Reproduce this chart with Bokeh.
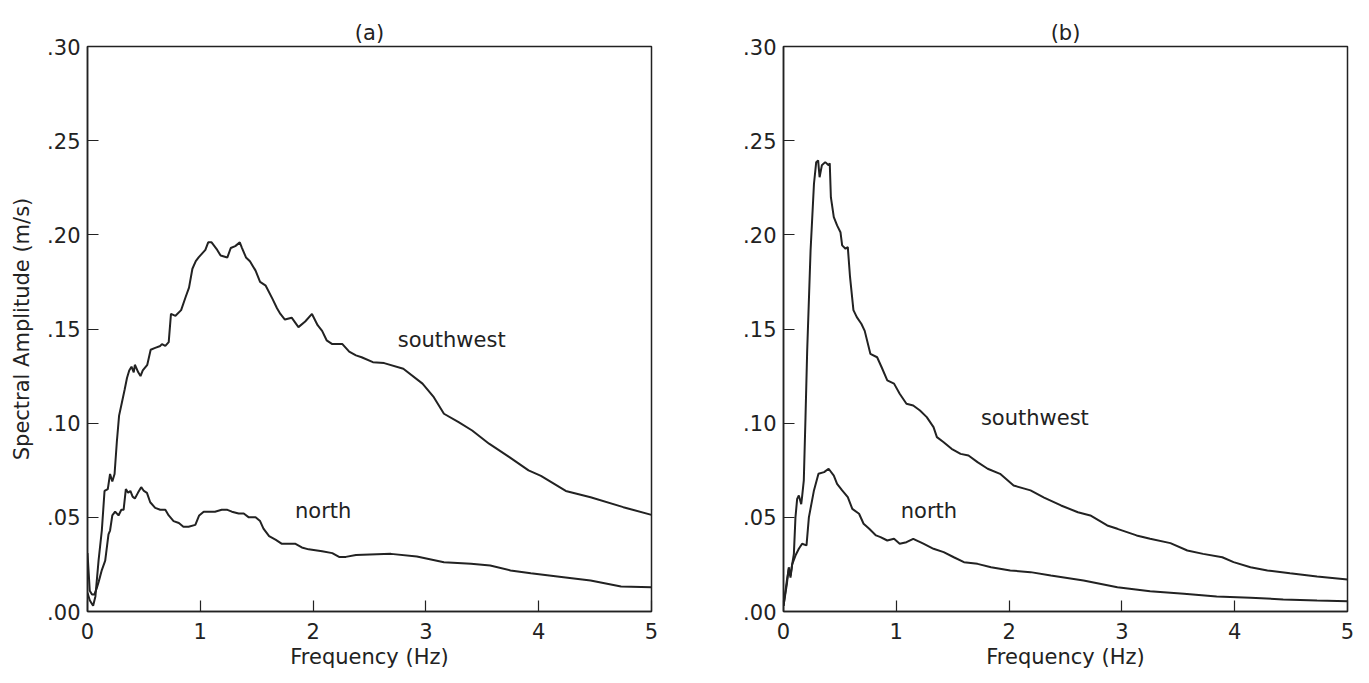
from bokeh.plotting import figure
from bokeh.layouts import row
from bokeh.models import Label, FixedTicker, Range1d, Title
from bokeh.embed import file_html
from bokeh.resources import INLINE

# ---------------- data ----------------
x_ticks = [0, 1, 2, 3, 4, 5]
y_ticks = [0.0, 0.05, 0.10, 0.15, 0.20, 0.25, 0.30]
y_tick_labels = [".00", ".05", ".10", ".15", ".20", ".25", ".30"]

# panel (a) southwest
fa_sw = [0, 0.02, 0.04, 0.05, 0.07, 0.098, 0.127, 0.151, 0.18, 0.20, 0.22, 0.24, 0.26, 0.28,
         0.305, 0.33, 0.35, 0.37, 0.39, 0.41, 0.42, 0.45, 0.47, 0.49, 0.53, 0.56, 0.60, 0.645,
         0.66, 0.69, 0.72, 0.74, 0.78, 0.83, 0.87, 0.90, 0.93, 0.96, 0.985, 1.015, 1.045, 1.07,
         1.10, 1.15, 1.18, 1.24, 1.27, 1.31, 1.35, 1.37, 1.405, 1.44, 1.49, 1.53, 1.58, 1.64,
         1.68, 1.71, 1.75, 1.81, 1.87, 1.93, 1.99, 2.04, 2.08, 2.12, 2.17, 2.26, 2.32, 2.38,
         2.43, 2.53, 2.63, 2.80, 2.97, 3.07, 3.16, 3.29, 3.41, 3.56, 3.74, 3.91, 4.02, 4.24,
         4.46, 4.75, 5.0]
va_sw = [0.010, 0.006, 0.004, 0.003, 0.008, 0.027, 0.043, 0.064, 0.065, 0.073, 0.069, 0.073,
         0.090, 0.104, 0.111, 0.118, 0.124, 0.128, 0.130, 0.127, 0.131, 0.127, 0.125, 0.128,
         0.131, 0.139, 0.140, 0.141, 0.142, 0.141, 0.143, 0.158, 0.157, 0.160, 0.167, 0.172,
         0.182, 0.186, 0.188, 0.190, 0.192, 0.196, 0.196, 0.192, 0.189, 0.188, 0.193, 0.194,
         0.196, 0.193, 0.188, 0.186, 0.181, 0.175, 0.173, 0.166, 0.161, 0.158, 0.155, 0.156,
         0.151, 0.154, 0.158, 0.152, 0.149, 0.144, 0.142, 0.142, 0.138, 0.136, 0.135, 0.1324,
         0.1319, 0.1289, 0.121, 0.1138, 0.105, 0.1005, 0.0961, 0.0891, 0.082, 0.0749, 0.072,
         0.064, 0.0607, 0.0554, 0.0513]

# panel (a) north
fa_n = [0, 0.02, 0.04, 0.06, 0.08, 0.10, 0.127, 0.157, 0.186, 0.20, 0.22, 0.245, 0.275, 0.30,
        0.32, 0.34, 0.36, 0.38, 0.40, 0.42, 0.447, 0.476, 0.50, 0.527, 0.556, 0.60, 0.645, 0.69,
        0.72, 0.763, 0.81, 0.85, 0.896, 0.956, 0.99, 1.03, 1.09, 1.13, 1.19, 1.24, 1.28, 1.34,
        1.385, 1.43, 1.49, 1.53, 1.56, 1.61, 1.67, 1.72, 1.78, 1.84, 1.90, 1.96, 2.08, 2.17,
        2.23, 2.29, 2.38, 2.69, 2.92, 3.16, 3.40, 3.57, 3.75, 3.93, 4.22, 4.46, 4.73, 5.0]
va_n = [0.031, 0.011, 0.009, 0.009, 0.012, 0.016, 0.022, 0.027, 0.041, 0.043, 0.051, 0.053,
        0.051, 0.054, 0.054, 0.065, 0.063, 0.064, 0.061, 0.060, 0.063, 0.066, 0.064, 0.063,
        0.058, 0.055, 0.054, 0.054, 0.051, 0.048, 0.047, 0.045, 0.045, 0.046, 0.051, 0.053,
        0.053, 0.053, 0.054, 0.054, 0.053, 0.052, 0.052, 0.050, 0.050, 0.048, 0.044, 0.040,
        0.038, 0.036, 0.036, 0.036, 0.034, 0.033, 0.032, 0.031, 0.029, 0.029, 0.030, 0.0306,
        0.0292, 0.0262, 0.0253, 0.0244, 0.0218, 0.0203, 0.0182, 0.0165, 0.0133, 0.0129]

# panel (b) southwest
fb_sw = [0, 0.03, 0.047, 0.062, 0.077, 0.092, 0.106, 0.121, 0.136, 0.157, 0.165, 0.18, 0.195,
         0.21, 0.24, 0.27, 0.29, 0.307, 0.32, 0.34, 0.37, 0.40, 0.41, 0.42, 0.446, 0.475, 0.505,
         0.52, 0.55, 0.57, 0.59, 0.62, 0.65, 0.69, 0.72, 0.77, 0.83, 0.87, 0.92, 0.98, 1.03,
         1.09, 1.15, 1.21, 1.27, 1.33, 1.36, 1.42, 1.49, 1.57, 1.64, 1.72, 1.81, 1.92, 2.04,
         2.19, 2.31, 2.46, 2.61, 2.72, 2.87, 2.96, 3.13, 3.25, 3.43, 3.58, 3.72, 3.89, 3.99,
         4.14, 4.29, 4.49, 4.73, 5.0]
vb_sw = [0.003, 0.0147, 0.0235, 0.018, 0.025, 0.0306, 0.050, 0.0598, 0.0616, 0.057, 0.061,
         0.0696, 0.103, 0.1386, 0.1917, 0.227, 0.2386, 0.2395, 0.2306, 0.2369, 0.2386, 0.2369,
         0.238, 0.220, 0.2094, 0.205, 0.2014, 0.1944, 0.1926, 0.1935, 0.1775, 0.160, 0.1563,
         0.1528, 0.149, 0.1368, 0.135, 0.1297, 0.1227, 0.121, 0.1156, 0.1103, 0.1094, 0.1067,
         0.1032, 0.0979, 0.0926, 0.0899, 0.0864, 0.0837, 0.0828, 0.0793, 0.0758, 0.0731,
         0.0669, 0.0643, 0.0605, 0.0563, 0.0527, 0.051, 0.0457, 0.0439, 0.0404, 0.0386,
         0.0363, 0.0324, 0.0306, 0.0288, 0.0262, 0.0235, 0.0218, 0.0203, 0.0186, 0.017]

# panel (b) north
fb_n = [0, 0.03, 0.047, 0.062, 0.077, 0.106, 0.136, 0.165, 0.204, 0.225, 0.27, 0.31, 0.36,
        0.40, 0.446, 0.475, 0.52, 0.57, 0.61, 0.67, 0.71, 0.76, 0.82, 0.86, 0.92, 0.98, 1.03,
        1.09, 1.15, 1.24, 1.33, 1.42, 1.51, 1.60, 1.72, 1.84, 2.01, 2.19, 2.37, 2.66, 2.96,
        3.25, 3.55, 3.84, 4.14, 4.43, 4.73, 5.0]
vb_n = [0.003, 0.0165, 0.0227, 0.019, 0.025, 0.0297, 0.0333, 0.036, 0.0351, 0.050, 0.0643,
        0.0731, 0.0740, 0.0758, 0.0722, 0.0678, 0.0643, 0.0607, 0.0545, 0.0519, 0.0466,
        0.0439, 0.0404, 0.0395, 0.0377, 0.0386, 0.036, 0.0368, 0.0386, 0.036, 0.0333, 0.0315,
        0.0288, 0.0262, 0.0253, 0.0235, 0.0218, 0.0209, 0.0191, 0.0165, 0.0129, 0.0108,
        0.0094, 0.008, 0.0073, 0.0064, 0.0058, 0.0055]

FONT = "DejaVu Sans"
INK = "#222222"
FS = "21px"


def make_panel(title, width, border_left, border_right, ylabel, series, labels):
    p = figure(width=width, height=683, x_range=Range1d(0, 5), y_range=Range1d(0, 0.30),
               output_backend="svg", toolbar_location=None,
               min_border_left=border_left, min_border_right=border_right,
               min_border_top=46, min_border_bottom=72)
    # a small blank title next to the frame lifts the panel title a little higher
    p.title.text = " "
    p.title.text_font_size = "6px"
    p.title.standoff = 0
    p.add_layout(Title(text=title, align="center", text_font=FONT, text_font_size=FS,
                       text_font_style="normal", text_color=INK, standoff=4), "above")
    p.grid.visible = False
    p.outline_line_color = INK
    p.outline_line_width = 1.5
    p.background_fill_color = "white"
    p.border_fill_color = "white"

    p.xaxis.ticker = FixedTicker(ticks=x_ticks)
    p.yaxis.ticker = FixedTicker(ticks=y_ticks)
    p.yaxis.major_label_overrides = {t: s for t, s in zip(y_ticks, y_tick_labels)}
    for ax in (p.xaxis, p.yaxis):
        ax.major_tick_in = 11
        ax.major_tick_out = 0
        ax.minor_tick_line_color = None
        ax.axis_line_color = INK
        ax.axis_line_width = 1.5
        ax.major_tick_line_color = INK
        ax.major_tick_line_width = 1.2
        ax.major_label_text_font = FONT
        ax.major_label_text_font_size = FS
        ax.major_label_text_color = INK
        ax.axis_label_text_font = FONT
        ax.axis_label_text_font_size = FS
        ax.axis_label_text_font_style = "normal"
        ax.axis_label_text_color = INK
    p.xaxis.major_label_standoff = 11
    p.yaxis.major_label_standoff = 7
    p.xaxis.axis_label = "Frequency (Hz)"
    p.xaxis.axis_label_standoff = 3
    if ylabel:
        p.yaxis.axis_label = ylabel
        p.yaxis.axis_label_standoff = 10

    for xs, ys in series:
        p.line(xs, ys, line_color=INK, line_width=2)

    for txt, x, y in labels:
        p.add_layout(Label(x=x, y=y, text=txt, text_font=FONT, text_font_size=FS,
                           text_color=INK, text_baseline="middle", text_align="left"))
    return p


pa = make_panel("(a)", 700, 87, 49, "Spectral Amplitude (m/s)",
                [(fa_sw, va_sw), (fa_n, va_n)],
                [("southwest", 2.75, 0.144), ("north", 1.84, 0.0536)])
pb = make_panel("(b)", 669, 83, 22, None,
                [(fb_sw, vb_sw), (fb_n, vb_n)],
                [("southwest", 1.75, 0.103), ("north", 1.04, 0.0536)])

layout = row(pa, pb)
open("out.html", "w").write(file_html(layout, INLINE))
